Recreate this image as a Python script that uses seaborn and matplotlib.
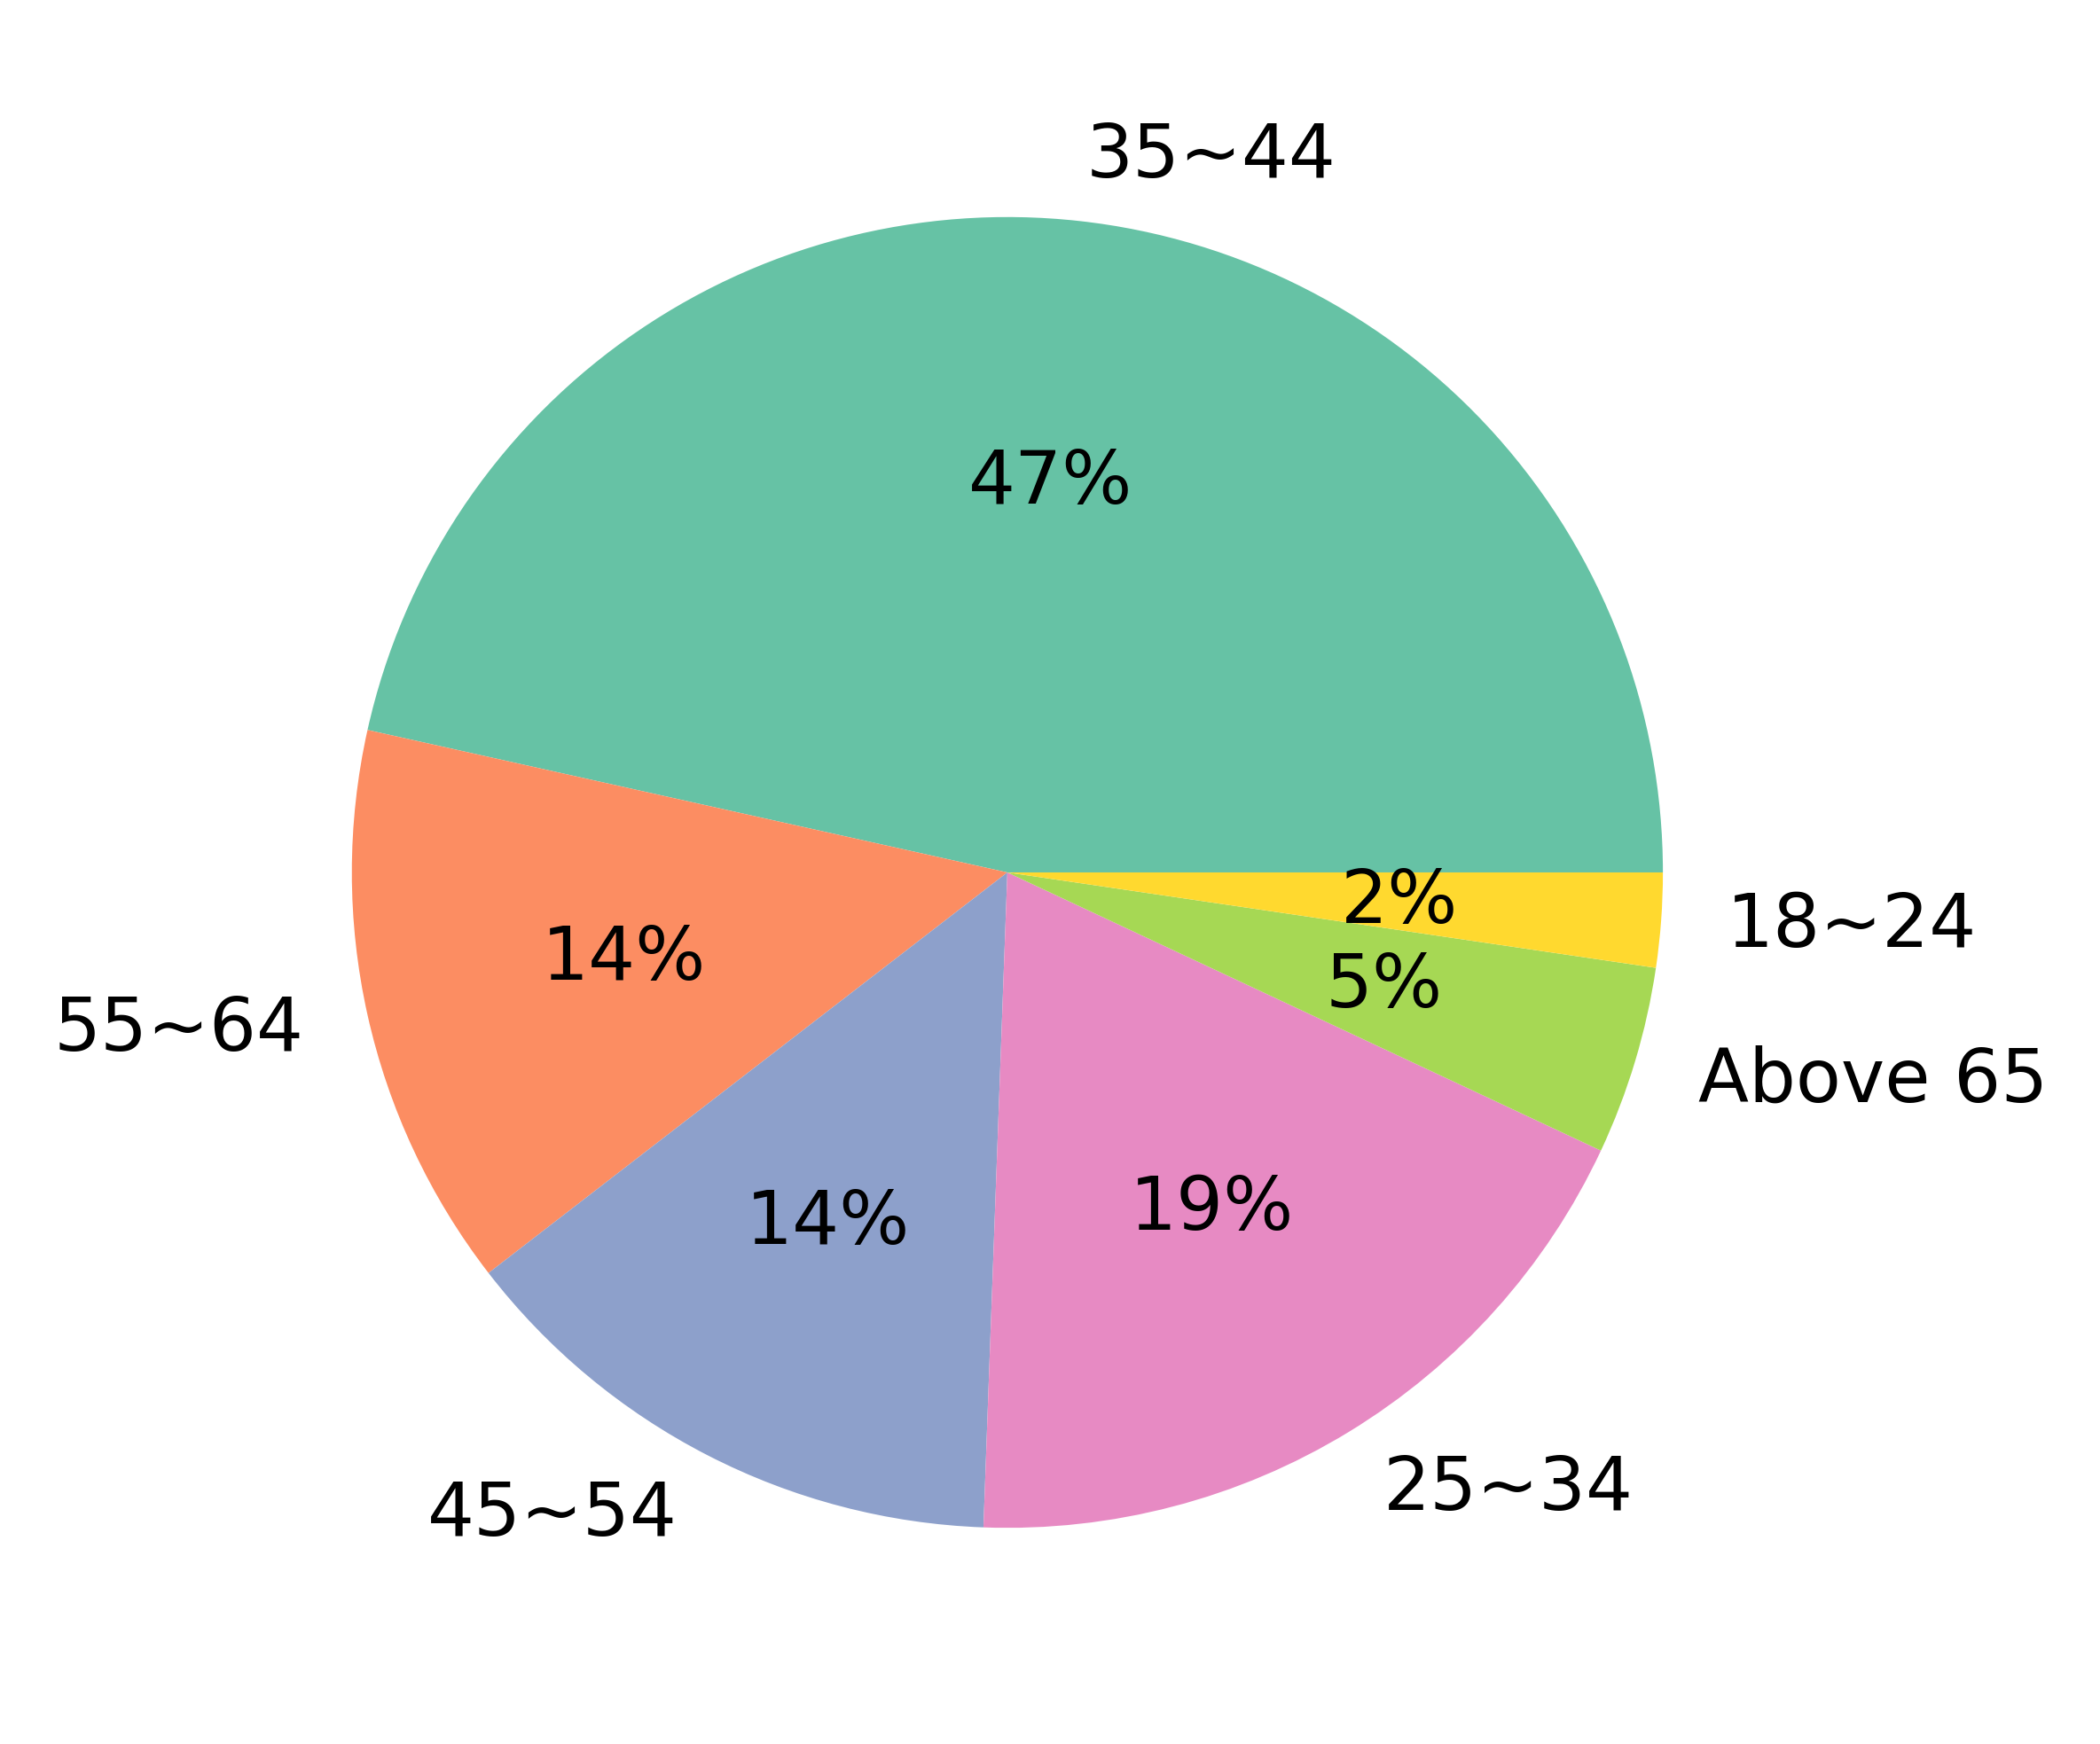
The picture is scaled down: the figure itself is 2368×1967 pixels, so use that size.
import matplotlib
matplotlib.use("Agg")
import matplotlib.pyplot as plt
import seaborn as sns

# respondent counts per age group
age_groups = ["35~44", "55~64", "45~54", "25~34", "Above 65", "18~24"]
counts = [20, 6, 6, 8, 2, 1]

colors = sns.color_palette("Set2", len(age_groups))

fig = plt.figure(figsize=(2368 / 300, 1968 / 300), dpi=300)
ax = fig.add_axes([0.0892, 0.030, 0.781, 0.939])
ax.pie(counts, labels=age_groups, colors=colors, autopct="%1.0f%%",
       wedgeprops={"linewidth": 0},
       textprops={"fontsize": 20, "color": "black"})
ax.set_aspect("equal")

fig.savefig("out.png", dpi=300)
